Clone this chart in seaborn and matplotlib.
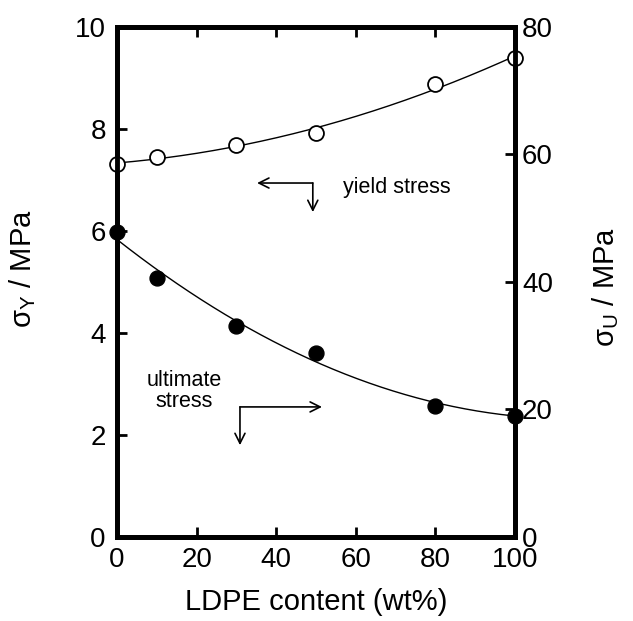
import numpy as np
import pandas as pd
import matplotlib
matplotlib.use("Agg")
import matplotlib.pyplot as plt
import seaborn as sns

# data
ldpe = [0, 10, 30, 50, 80, 100]
yield_stress = [7.31, 7.45, 7.69, 7.92, 8.88, 9.39]        # left axis (MPa)
ultimate_stress = [47.8, 40.6, 33.1, 28.9, 20.6, 19.0]      # right axis (MPa)
x_ticks = [0, 20, 40, 60, 80, 100]
yl_ticks = [0, 2, 4, 6, 8, 10]
yr_ticks = [0, 20, 40, 60, 80]

sns.set_style("ticks")
plt.rcParams['font.family'] = ['Liberation Sans', 'DejaVu Sans']
plt.rcParams['mathtext.fontset'] = 'custom'
plt.rcParams['mathtext.rm'] = 'Liberation Sans'
plt.rcParams['mathtext.it'] = 'Liberation Sans'
plt.rcParams['text.color'] = 'black'
plt.rcParams['axes.labelcolor'] = 'black'

fig = plt.figure(figsize=(6.33, 6.21), dpi=100)
ax = fig.add_axes([0.1848, 0.1353, 0.6288, 0.8213])
ax2 = ax.twinx()

df = pd.DataFrame({"x": ldpe, "ys": yield_stress, "us": ultimate_stress})

# fitted curves
xf = np.linspace(0, 100, 200)
fy = np.polyval(np.polyfit(ldpe, yield_stress, 2), xf)
fu = np.polyval(np.polyfit(ldpe, ultimate_stress, 2), xf)
sns.lineplot(x=xf, y=fy, ax=ax, color='black', lw=1.0, zorder=2)
sns.lineplot(x=xf, y=fu, ax=ax2, color='black', lw=1.0, zorder=2)

sns.scatterplot(data=df, x="x", y="ys", ax=ax, s=115, facecolor='white',
                edgecolor='black', linewidth=1.3, zorder=5, clip_on=False)
sns.scatterplot(data=df, x="x", y="us", ax=ax2, s=115, color='black',
                edgecolor='black', linewidth=1.0, zorder=5, clip_on=False)

ax.set_xlim(0, 100)
ax.set_ylim(0, 10)
ax2.set_ylim(0, 80)
ax.set_xticks(x_ticks)
ax.set_yticks(yl_ticks)
ax2.set_yticks(yr_ticks)

for a in (ax, ax2):
    for s in a.spines.values():
        s.set_linewidth(3.5)
        s.set_color('black')
    a.tick_params(direction='in', length=7, width=2, labelsize=20, colors='black')

ax.tick_params(axis='x', top=True, pad=7)
ax.tick_params(axis='y', right=False, pad=8)
ax2.tick_params(axis='y', pad=5)

ax.set_xlabel("LDPE content (wt%)", fontsize=21)
ax.xaxis.set_label_coords(0.5, -0.10)
ax.set_ylabel("σ$_\\mathregular{Y}$ / MPa", fontsize=21)
ax.yaxis.set_label_coords(-0.198, 0.527)
ax2.set_ylabel("σ$_\\mathregular{U}$ / MPa", fontsize=21)
ax2.yaxis.set_label_coords(1.188, 0.49)

arrow = dict(arrowstyle='->', color='black', lw=1.2, mutation_scale=18, shrinkA=0, shrinkB=0)
# yield stress arrows
ax.annotate("", xy=(35.2, 6.94), xytext=(49.2, 6.94), arrowprops=arrow)
ax.annotate("", xy=(49.2, 6.37), xytext=(49.2, 6.94), arrowprops=arrow)
ax.text(56.8, 6.86, "yield stress", fontsize=15.5, va='center', ha='left')
# ultimate stress arrows
ax.annotate("", xy=(51.5, 2.55), xytext=(30.9, 2.55), arrowprops=arrow)
ax.annotate("", xy=(30.9, 1.80), xytext=(30.9, 2.55), arrowprops=arrow)
ax.text(16.8, 2.86, "ultimate\nstress", fontsize=15.5, va='center', ha='center', linespacing=1.0)

fig.savefig("out.png", dpi=100, facecolor='white')
